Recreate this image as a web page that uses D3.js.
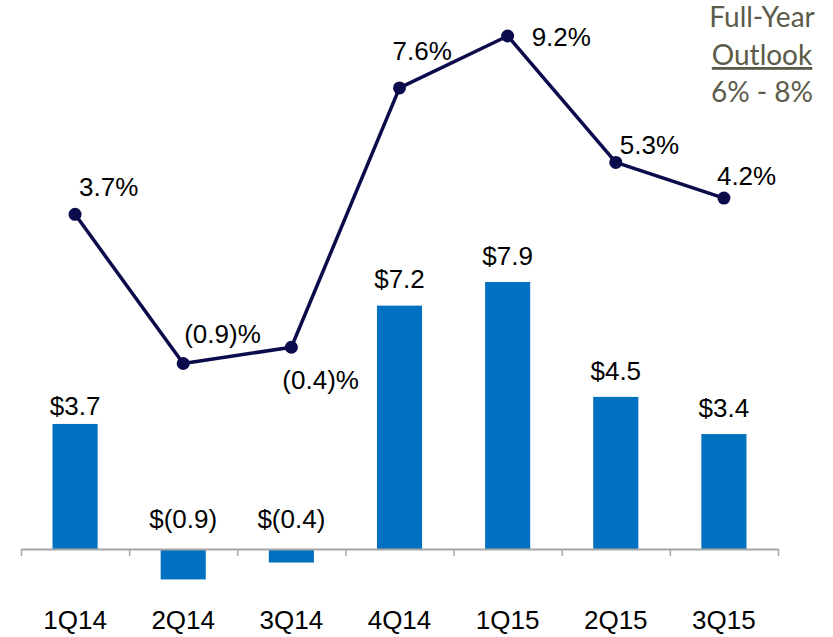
<!DOCTYPE html>
<html>
<head>
<meta charset="utf-8">
<script src="https://cdn.jsdelivr.net/npm/d3@7"></script>
<style>
  html, body { margin: 0; padding: 0; background: #fff; }
  svg { display: block; }
</style>
</head>
<body>
<svg id="chart" width="833" height="637"></svg>
<script>
// ---- data ----
const categories = ["1Q14", "2Q14", "3Q14", "4Q14", "1Q15", "2Q15", "3Q15"];
const barValues = [3.7, -0.9, -0.4, 7.2, 7.9, 4.5, 3.4];
const barLabels = ["$3.7", "$(0.9)", "$(0.4)", "$7.2", "$7.9", "$4.5", "$3.4"];
const growthValues = [3.7, -0.9, -0.4, 7.6, 9.2, 5.3, 4.2];
const growthLabels = ["3.7%", "(0.9)%", "(0.4)%", "7.6%", "9.2%", "5.3%", "4.2%"];
const outlookLines = ["Full-Year", "Outlook", "6% - 8%"];

// label offsets (layout only)
const growthLabelOffsets = [[4, -18], [1, -20], [-9, 42], [-7, -28], [24, 10], [4, -8], [-7, -13]];
const barLabelGap = [9, 0, 0, 18, 17, 17, 17];

const svg = d3.select("#chart");
const baseY = 549;
const labelFont = "Liberation Sans, Arial, sans-serif";
const labelSize = 26;

const x = d3.scaleBand().domain(categories).range([21, 778]).paddingInner(0.583).paddingOuter(0.2915);
const yBar = d3.scaleLinear().domain([-1, 8]).range([baseY + 33.8, baseY - 8 * 33.8]);
const yLine = d3.scaleLinear().domain([0, 9.2]).range([334.3, 36]);

// bars
svg.append("g").selectAll("rect").data(barValues).join("rect")
  .attr("x", (d, i) => x(categories[i]))
  .attr("width", x.bandwidth())
  .attr("y", d => yBar(Math.max(0, d)))
  .attr("height", d => Math.abs(yBar(d) - yBar(0)))
  .attr("fill", "#0070C0");

// axis with ticks at band boundaries
const tickScale = d3.scaleLinear().domain([0, categories.length]).range(x.range());
const axis = svg.append("g").attr("transform", `translate(0,${baseY})`)
  .call(d3.axisBottom(tickScale).tickValues(d3.range(0, categories.length + 1)).tickSize(7).tickSizeOuter(0).tickFormat(""));
axis.select(".domain").attr("stroke", "#a6a6a6").attr("stroke-width", 2);
axis.selectAll(".tick line").attr("stroke", "#a6a6a6").attr("stroke-width", 1.5);

// category labels
svg.append("g").selectAll("text").data(categories).join("text")
  .attr("x", d => x(d) + x.bandwidth() / 2)
  .attr("y", 629)
  .attr("text-anchor", "middle")
  .attr("font-family", labelFont)
  .attr("font-size", labelSize)
  .attr("fill", "#000")
  .text(d => d);

// bar labels
svg.append("g").selectAll("text").data(barValues).join("text")
  .attr("x", (d, i) => x(categories[i]) + x.bandwidth() / 2)
  .attr("y", (d, i) => d >= 0 ? yBar(d) - barLabelGap[i] : 528)
  .attr("text-anchor", "middle")
  .attr("font-family", labelFont)
  .attr("font-size", labelSize)
  .attr("fill", "#000")
  .text((d, i) => barLabels[i]);

// line
const cx = (i) => x(categories[i]) + x.bandwidth() / 2;
const line = d3.line().x((d, i) => cx(i)).y(d => yLine(d));
svg.append("path").datum(growthValues)
  .attr("d", line)
  .attr("fill", "none")
  .attr("stroke", "#0b0b4b")
  .attr("stroke-width", 3.5)
  .attr("stroke-linejoin", "round");

svg.append("g").selectAll("circle").data(growthValues).join("circle")
  .attr("cx", (d, i) => cx(i))
  .attr("cy", d => yLine(d))
  .attr("r", 6.5)
  .attr("fill", "#0b0b4b");

svg.append("g").selectAll("text").data(growthValues).join("text")
  .attr("x", (d, i) => cx(i) + growthLabelOffsets[i][0])
  .attr("y", (d, i) => yLine(d) + growthLabelOffsets[i][1])
  .attr("font-family", labelFont)
  .attr("font-size", labelSize)
  .attr("fill", "#000")
  .text((d, i) => growthLabels[i]);

// outlook box text
const outlook = svg.append("g");
const oy = [27, 65, 102];
outlookLines.forEach((t, i) => {
  outlook.append("text")
    .attr("x", 762)
    .attr("y", oy[i])
    .attr("text-anchor", "middle")
    .attr("font-family", "Lato, 'Open Sans', sans-serif")
    .attr("font-size", 28)
    .attr("fill", "#5b5b49")
    .attr("text-decoration", i === 1 ? "underline" : null)
    .text(t);
});
</script>
</body>
</html>
